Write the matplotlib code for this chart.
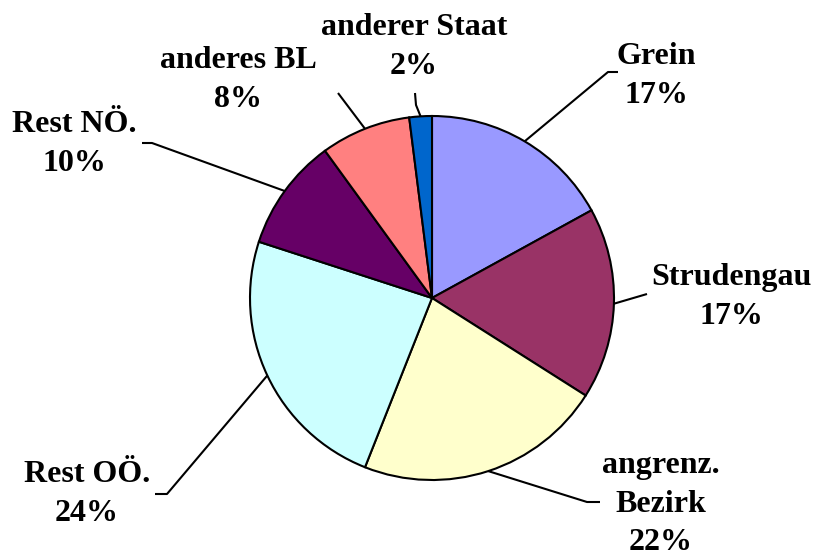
import numpy as np
import matplotlib
matplotlib.use("Agg")
import matplotlib.pyplot as plt

# Herkunft der Besucher
labels = ["Grein", "Strudengau", "angrenz.\nBezirk", "Rest OÖ.", "Rest NÖ.",
          "anderes BL", "anderer Staat"]
shares = [17, 17, 22, 24, 10, 8, 2]
colors = ["#9999FF", "#993366", "#FFFFCC", "#CCFFFF", "#660066", "#FF8080", "#0066CC"]

W, H = 814, 556
fig = plt.figure(figsize=(W / 100, H / 100), dpi=100)
ax = fig.add_axes([0, 0, 1, 1])

cx, cy, r = 432, H - 298, 182
ax.pie(shares, colors=colors, startangle=90, counterclock=False,
       center=(cx, cy), radius=r, frame=True,
       wedgeprops=dict(edgecolor="black", linewidth=1.5))
ax.set_xlim(0, W)
ax.set_ylim(0, H)
ax.set_aspect("equal")
ax.axis("off")

# label centre and leader-line elbow points (pixel coords, y from top)
text_pos = [(656, 76), (731, 297), (661, 504), (87, 494), (74, 144), (238, 80), (414, 47)]
elbows = [[(618, 72), (608, 72)],
          [(647, 294)],
          [(600, 502), (587, 502)],
          [(155, 494), (167, 494)],
          [(142, 143), (152, 143)],
          [(338, 93)],
          [(415, 93), (416, 105)]]

start = 90.0
for lab, s, tp, el in zip(labels, shares, text_pos, elbows):
    span = s / sum(shares) * 360
    mid = np.deg2rad(start - span / 2)
    start -= span
    ex, ey = cx + r * np.cos(mid), cy + r * np.sin(mid)
    xs = [p[0] for p in el] + [ex]
    ys = [H - p[1] for p in el] + [ey]
    ax.plot(xs, ys, color="black", lw=1.5, solid_capstyle="butt")
    ax.text(tp[0], H - tp[1], f"{lab}\n{s}%", ha="center", va="center",
            fontsize=23, fontweight="bold", family="Liberation Serif",
            linespacing=1.45)

fig.savefig("out.png", dpi=100)
